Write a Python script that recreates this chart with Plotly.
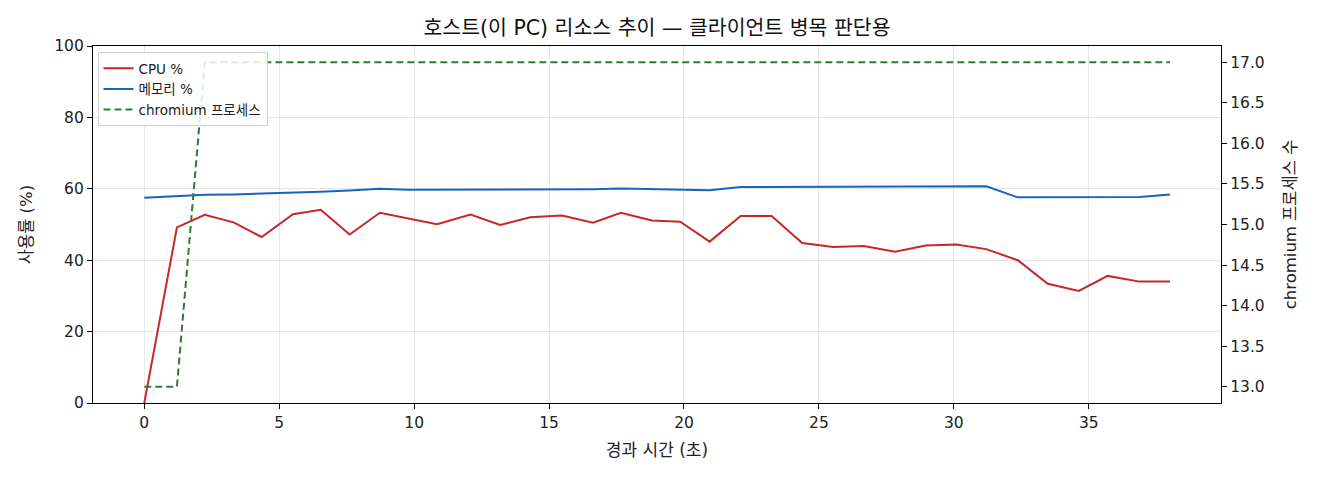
import plotly.graph_objects as go

# elapsed time (s) per sample
elapsed = [0.0, 1.21, 2.24, 3.31, 4.35, 5.51, 6.54, 7.61, 8.73, 9.80,
           10.85, 12.09, 13.19, 14.30, 15.48, 16.63, 17.66, 18.81, 19.86, 20.95,
           22.10, 23.25, 24.38, 25.53, 26.66, 27.82, 28.96, 30.09, 31.20, 32.37,
           33.48, 34.63, 35.70, 36.88, 38.01]

cpu_pct = [0.0, 49.2, 52.7, 50.6, 46.5, 52.9, 54.1, 47.2, 53.3, 51.7,
           50.1, 52.8, 49.9, 52.0, 52.5, 50.5, 53.3, 51.1, 50.8, 45.2,
           52.4, 52.4, 44.8, 43.7, 44.0, 42.4, 44.1, 44.4, 43.1, 40.0,
           33.4, 31.4, 35.6, 34.0, 34.0]

mem_pct = [57.5, 58.0, 58.3, 58.4, 58.6, 58.9, 59.2, 59.5, 60.0, 59.7,
           59.7, 59.8, 59.8, 59.8, 59.8, 59.9, 60.1, 59.9, 59.9, 59.6,
           60.5, 60.5, 60.5, 60.6, 60.6, 60.6, 60.7, 60.7, 60.7, 57.6,
           57.6, 57.6, 57.7, 57.7, 58.4]

chromium_cnt = [13, 13, 17, 17, 17, 17, 17, 17, 17, 17,
                17, 17, 17, 17, 17, 17, 17, 17, 17, 17,
                17, 17, 17, 17, 17, 17, 17, 17, 17, 17,
                17, 17, 17, 17, 17]

FONT = "DejaVu Sans, Noto Sans CJK KR, sans-serif"

# page has an 8px body margin, so the figure is a bit smaller than the window
W, H = 1312, 472

fig = go.Figure()

fig.add_trace(go.Scatter(x=elapsed, y=cpu_pct, mode="lines", name="CPU %",
                         line=dict(color="#c62828", width=2)))
fig.add_trace(go.Scatter(x=elapsed, y=mem_pct, mode="lines", name="메모리 %",
                         line=dict(color="#1565c0", width=2)))
fig.add_trace(go.Scatter(x=elapsed, y=chromium_cnt, mode="lines", name="chromium 프로세스",
                         line=dict(color="#2e7d32", width=2, dash="7px,4px"),
                         yaxis="y2"))

fig.update_layout(
    width=W, height=H,
    margin=dict(l=85, r=99, t=38, b=77),
    paper_bgcolor="white", plot_bgcolor="white",
    font=dict(family=FONT, size=15.5, color="#222"),
    title=dict(text="호스트(이 PC) 리소스 추이 — 클라이언트 병목 판단용",
               x=0.5, xref="paper", xanchor="center",
               y=1 - 20 / H, yref="container", yanchor="middle",
               font=dict(size=20.5, color="#111")),
    xaxis=dict(range=[-1.9, 39.9], dtick=5, tick0=0,
               showgrid=True, gridcolor="#e6e6e6", gridwidth=1, zeroline=False,
               showline=True, linecolor="black", linewidth=1.2, mirror=True,
               ticks="outside", ticklen=5, tickcolor="black",
               title=dict(text="경과 시간 (초)", font=dict(size=17), standoff=13)),
    yaxis=dict(range=[0, 100], dtick=20,
               showgrid=True, gridcolor="#e6e6e6", gridwidth=1, zeroline=False,
               showline=True, linecolor="black", linewidth=1.2, mirror=True,
               ticks="outside", ticklen=5, tickcolor="black",
               title=dict(text="사용률 (%)", font=dict(size=16.5), standoff=17)),
    yaxis2=dict(range=[12.8, 17.2], dtick=0.5, tick0=13, tickformat=".1f",
                overlaying="y", side="right", showgrid=False, zeroline=False,
                showline=True, linecolor="black", linewidth=1.2,
                ticks="outside", ticklen=5, tickcolor="black",
                title=dict(text="chromium 프로세스 수", font=dict(size=16.5), standoff=20)),
    legend=dict(x=0.004, y=0.983, xanchor="left", yanchor="top",
                bgcolor="rgba(255,255,255,0.85)", bordercolor="#d0d0d0", borderwidth=1,
                font=dict(size=13.5), itemwidth=30),
    showlegend=True,
)

fig.write_html("out.html")
